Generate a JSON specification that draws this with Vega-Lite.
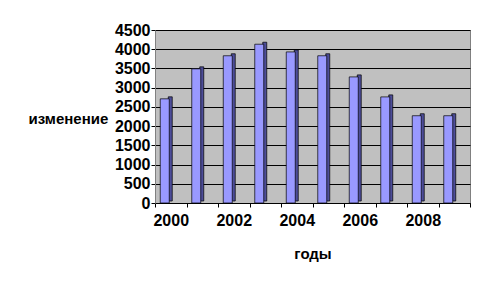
{
  "$schema": "https://vega.github.io/schema/vega-lite/v6.json",
  "autosize": "none",
  "width": 315,
  "height": 173,
  "padding": {"left": 155, "top": 30, "right": 25, "bottom": 85},
  "background": "white",
  "config": {
    "view": {"fill": "#C0C0C0", "stroke": "#808080", "strokeWidth": 1},
    "font": "Liberation Sans"
  },
  "data": {
    "values": [
      {"year": "2000", "value": 2710},
      {"year": "2001", "value": 3490},
      {"year": "2002", "value": 3830},
      {"year": "2003", "value": 4130},
      {"year": "2004", "value": 3930},
      {"year": "2005", "value": 3830},
      {"year": "2006", "value": 3280},
      {"year": "2007", "value": 2760},
      {"year": "2008", "value": 2270},
      {"year": "2009", "value": 2270}
    ]
  },
  "encoding": {
    "x": {
      "field": "year", "type": "ordinal",
      "scale": {"paddingInner": 0, "paddingOuter": 0},
      "axis": {
        "title": "годы", "labelAngle": 0, "tickBand": "extent",
        "labelExpr": "toNumber(datum.value) % 2 == 0 ? datum.value : ''",
        "labelFont": "Liberation Sans", "labelFontSize": 16, "labelFontWeight": "bold", "labelColor": "black",
        "tickColor": "black", "tickSize": 4, "domainColor": "black", "labelPadding": 5,
        "titleFont": "Liberation Sans", "titleFontSize": 15, "titleFontWeight": "bold", "titleColor": "black",
        "titleY": 50, "titleBaseline": "middle", "grid": false
      }
    },
    "y": {
      "field": "value", "type": "quantitative",
      "scale": {"domain": [0, 4500], "nice": false},
      "axis": {
        "title": "изменение", "values": [0,500,1000,1500,2000,2500,3000,3500,4000,4500], "format": "d",
        "labelFont": "Liberation Sans", "labelFontSize": 16, "labelFontWeight": "bold", "labelColor": "black",
        "tickColor": "black", "tickSize": 4, "domainColor": "#808080", "labelPadding": 1,
        "grid": true, "gridColor": "black", "gridOpacity": 1, "gridWidth": 1,
        "titleAngle": 0, "titleX": -127, "titleY": 88, "titleAlign": "left", "titleBaseline": "middle",
        "titleFont": "Liberation Sans", "titleFontSize": 15, "titleFontWeight": "bold", "titleColor": "black"
      }
    }
  },
  "layer": [
    {
      "mark": {"type": "bar", "width": 4, "xOffset": -0.5, "yOffset": -2, "color": "#4D4D99", "stroke": "black", "strokeWidth": 0.7}
    },
    {
      "mark": {"type": "bar", "width": 9, "xOffset": -6, "color": "#9999FF", "stroke": "black", "strokeWidth": 0.7}
    }
  ]
}
